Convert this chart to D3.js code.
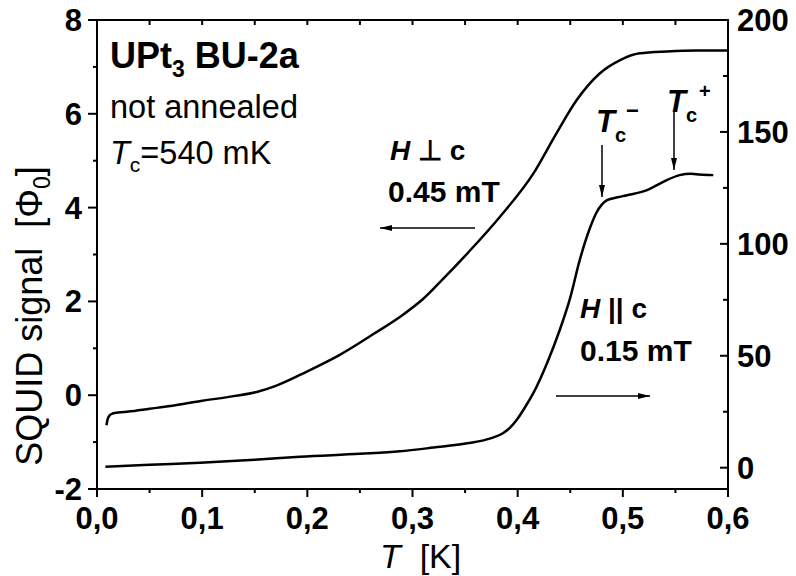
<!DOCTYPE html>
<html><head><meta charset="utf-8">
<script src="https://cdn.jsdelivr.net/npm/d3@7"></script>
<style>
body{margin:0;background:#fff;}
text{font-family:"Liberation Sans",Arial,Helvetica,sans-serif;fill:#000;}
</style></head>
<body><svg id="c" width="796" height="576"></svg>
<script>
// H ⊥ c (left axis)
const T_perp = [0.009,0.010,0.012,0.015,0.02,0.03,0.05,0.07,0.10,0.13,0.152,0.17,0.20,0.23,0.264,0.29,0.31,0.33,0.352,0.383,0.415,0.437,0.456,0.478,0.497,0.516,0.542,0.57,0.60];
const S_perp = [-0.64,-0.52,-0.43,-0.39,-0.37,-0.35,-0.29,-0.23,-0.12,-0.02,0.07,0.20,0.51,0.85,1.32,1.70,2.05,2.50,3.02,3.80,4.73,5.59,6.29,6.86,7.14,7.29,7.33,7.35,7.35];
// H || c (right axis)
const T_par = [0.008,0.05,0.098,0.15,0.193,0.25,0.288,0.32,0.352,0.375,0.386,0.393,0.399,0.407,0.415,0.428,0.440,0.450,0.459,0.469,0.475,0.480,0.485,0.495,0.504,0.523,0.538,0.554,0.565,0.573,0.586];
const S_par = [0.45,1.3,2.2,3.5,4.9,6.2,7.3,9.0,10.9,13.2,15.4,18,21.3,27,33.4,46.8,61.5,76,92.7,107.4,114,117.5,119.5,120.8,121.7,124,127.6,130.7,131.3,131,130.7];
const xTicks = [0.0,0.1,0.2,0.3,0.4,0.5,0.6];
const xTickLabels = ["0,0","0,1","0,2","0,3","0,4","0,5","0,6"];
const yLeftTicks = [-2,0,2,4,6,8];
const yRightTicks = [0,50,100,150,200];

const svg = d3.select("#c");
const L=97,R=728,T=20,B=489;
const x = d3.scaleLinear().domain([0,0.6]).range([L,R]);
const yL = d3.scaleLinear().domain([-2,8]).range([B,T]);
const yR = d3.scaleLinear().domain([-9.52,200]).range([B,T]);

// frame
svg.append("rect").attr("x",L).attr("y",T).attr("width",R-L).attr("height",B-T)
  .attr("fill","none").attr("stroke","#000").attr("stroke-width",2);

const minorX = d3.range(0,0.601,0.05);
// bottom ticks (outward)
const gB = svg.append("g");
minorX.forEach((v,i)=>{
  const major = i%2===0;
  gB.append("line").attr("x1",x(v)).attr("x2",x(v)).attr("y1",B).attr("y2",B+(major?8:4)).attr("stroke","#000").attr("stroke-width",2);
});
xTicks.forEach((v,i)=>{
  gB.append("text").attr("x",x(v)).attr("y",529).attr("text-anchor","middle")
    .attr("font-size",31).attr("font-weight","bold").text(xTickLabels[i]);
});
// top ticks inward
minorX.forEach(v=>{
  svg.append("line").attr("x1",x(v)).attr("x2",x(v)).attr("y1",T).attr("y2",T+5).attr("stroke","#000").attr("stroke-width",2);
});
// left axis outward
d3.range(-2,8.01,1).forEach((v,i)=>{
  const major = i%2===0;
  svg.append("line").attr("x1",L).attr("x2",L-(major?9:4)).attr("y1",yL(v)).attr("y2",yL(v)).attr("stroke","#000").attr("stroke-width",2);
});
yLeftTicks.forEach(v=>{
  svg.append("text").attr("x",82).attr("y",yL(v)+11).attr("text-anchor","end")
    .attr("font-size",31).attr("font-weight","bold").text(v);
});
// right axis inward
d3.range(0,200.1,25).forEach((v,i)=>{
  const major = i%2===0;
  svg.append("line").attr("x1",R).attr("x2",R-(major?8:5)).attr("y1",yR(v)).attr("y2",yR(v)).attr("stroke","#000").attr("stroke-width",2);
});
yRightTicks.forEach(v=>{
  svg.append("text").attr("x",737).attr("y",yR(v)+11).attr("text-anchor","start")
    .attr("font-size",31).attr("font-weight","bold").text(v);
});

// curves
const line = d3.line().curve(d3.curveMonotoneX);
svg.append("path").attr("d",line(T_perp.map((t,i)=>[x(t),yL(S_perp[i])])))
  .attr("fill","none").attr("stroke","#000").attr("stroke-width",2.5);
svg.append("path").attr("d",line(T_par.map((t,i)=>[x(t),yR(S_par[i])])))
  .attr("fill","none").attr("stroke","#000").attr("stroke-width",2.5);

// arrows
const defs = svg.append("defs");
defs.append("marker").attr("id","ah").attr("viewBox","0 0 12 6").attr("refX",12).attr("refY",3)
  .attr("markerWidth",12).attr("markerHeight",6).attr("markerUnits","userSpaceOnUse").attr("orient","auto")
  .append("path").attr("d","M0,0 L12,3 L0,6 Z").attr("fill","#000");
function arrow(x1,y1,x2,y2){
  svg.append("line").attr("x1",x1).attr("y1",y1).attr("x2",x2).attr("y2",y2)
    .attr("stroke","#000").attr("stroke-width",1.5).attr("marker-end","url(#ah)");
}
arrow(475,228,380,228);
arrow(556,396,650,396);
arrow(602,145,602,197);
arrow(674,110,674,170);

// y label
svg.append("text").attr("transform","translate(42,316) rotate(-90)").attr("text-anchor","middle")
  .attr("font-size",36)
  .call(t=>{t.append("tspan").text("SQUID signal\u00a0\u00a0[Φ");
    t.append("tspan").attr("font-size",23).attr("dy",8).text("0");
    t.append("tspan").attr("dy",-8).text("]");});
// x label
svg.append("text").attr("x",380).attr("y",568).attr("font-size",34)
  .call(t=>{t.append("tspan").attr("font-style","italic").text("T");
    t.append("tspan").text("\u00a0\u00a0[K]");});

// annotations
svg.append("text").attr("x",110).attr("y",68).attr("font-size",36).attr("font-weight","bold")
  .call(t=>{t.append("tspan").text("UPt");
    t.append("tspan").attr("font-size",23).attr("dy",9).text("3");
    t.append("tspan").attr("dy",-9).text(" BU-2a");});
svg.append("text").attr("x",110).attr("y",118).attr("font-size",32.5).text("not annealed");
svg.append("text").attr("x",110).attr("y",164).attr("font-size",32.5)
  .call(t=>{t.append("tspan").attr("font-style","italic").text("T");
    t.append("tspan").attr("font-size",21).attr("dy",8).text("c");
    t.append("tspan").attr("dy",-8).text("=540 mK");});

svg.append("text").attr("x",390).attr("y",160).attr("font-size",28).attr("font-weight","bold")
  .call(t=>{t.append("tspan").attr("font-style","italic").text("H");
    t.append("tspan").text(" ⊥ c");});
svg.append("text").attr("x",388).attr("y",202).attr("font-size",30).attr("font-weight","bold").text("0.45 mT");
svg.append("text").attr("x",580).attr("y",318).attr("font-size",28).attr("font-weight","bold")
  .call(t=>{t.append("tspan").attr("font-style","italic").text("H");
    t.append("tspan").text(" || c");});
svg.append("text").attr("x",580).attr("y",361).attr("font-size",30).attr("font-weight","bold").text("0.15 mT");

// Tc labels
svg.append("text").attr("x",596).attr("y",132).attr("font-size",31).attr("font-weight","bold")
  .call(t=>{t.append("tspan").attr("font-style","italic").text("T");
    t.append("tspan").attr("font-size",20).attr("dy",10).text("c");
    t.append("tspan").attr("font-size",22).attr("dy",-24).attr("dx",0).text("−");});
svg.append("text").attr("x",667).attr("y",112).attr("font-size",31).attr("font-weight","bold")
  .call(t=>{t.append("tspan").attr("font-style","italic").text("T");
    t.append("tspan").attr("font-size",20).attr("dy",10).text("c");
    t.append("tspan").attr("font-size",20).attr("dy",-24).attr("dx",2).text("+");});
</script></body></html>
